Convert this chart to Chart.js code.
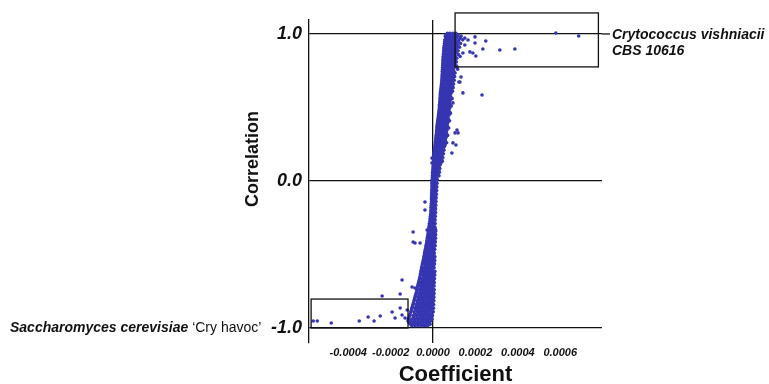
<!DOCTYPE html>
<html>
<head>
<meta charset="utf-8">
<script src="https://cdn.jsdelivr.net/npm/chart.js@4.4.1/dist/chart.umd.min.js"></script>
<style>
    html, body { margin: 0; padding: 0; background: #fff; }
</style>
</head>
<body>
<canvas id="chart" width="769" height="384"></canvas>
<script>
"use strict";

// Coefficient values below are in millionths (x 1e-6).

// Main band: [correlation, [coefficients...]]
let BAND = [
    [1.005, [68, 80, 94, 108]],
    [0.985, [58, 72, 85, 98, 115, 132]],
    [0.96, [56, 66, 78, 90, 104, 122, 140]],
    [0.935, [54, 63, 74, 86, 99, 112, 130]],
    [0.91, [52, 61, 71, 82, 95, 108, 125]],
    [0.885, [50, 60, 70, 80, 92, 104, 118]],
    [0.86, [49, 58, 68, 79, 90, 102, 120]],
    [0.835, [48, 57, 66, 76, 88, 100, 112]],
    [0.81, [47, 56, 65, 75, 86, 98, 110]],
    [0.785, [46, 55, 64, 74, 84, 96, 108]],
    [0.76, [45, 54, 63, 72, 82, 94, 116]],
    [0.735, [44, 53, 62, 71, 81, 92, 104]],
    [0.71, [43, 52, 61, 70, 80, 91, 102]],
    [0.685, [42, 50, 59, 68, 78, 88, 100]],
    [0.66, [40, 49, 58, 67, 76, 86, 97]],
    [0.635, [38, 47, 56, 65, 74, 84, 95]],
    [0.61, [36, 45, 54, 63, 72, 82, 92]],
    [0.585, [34, 43, 52, 61, 70, 80]],
    [0.56, [33, 42, 51, 60, 69, 79, 90]],
    [0.535, [32, 41, 50, 58, 67, 77]],
    [0.51, [30, 39, 48, 57, 66, 76, 86]],
    [0.485, [29, 38, 47, 55, 64, 74]],
    [0.46, [27, 36, 45, 54, 62, 72, 82]],
    [0.435, [25, 34, 43, 52, 61, 70]],
    [0.41, [22, 31, 40, 49, 58, 68, 78]],
    [0.385, [20, 29, 38, 47, 56, 66]],
    [0.36, [18, 27, 36, 45, 54, 64, 74]],
    [0.335, [17, 26, 35, 44, 53, 62]],
    [0.31, [15, 24, 33, 42, 51, 60, 69]],
    [0.285, [13, 22, 31, 40, 49, 58]],
    [0.26, [11, 20, 29, 38, 47, 56, 64]],
    [0.235, [9, 18, 27, 36, 45, 54]],
    [0.21, [6, 15, 24, 33, 42, 52]],
    [0.185, [4, 13, 22, 31, 40, 49]],
    [0.16, [3, 11, 20, 29, 38, 46]],
    [0.135, [2, 10, 18, 27, 36, 44]],
    [0.11, [1, 9, 17, 25, 34]],
    [0.085, [0, 8, 16, 24, 32]],
    [0.06, [-2, 6, 14, 22, 30]],
    [0.035, [-3, 5, 13, 21, 28]],
    [0.01, [-4, 4, 12, 20]],
    [-0.015, [-5, 3, 11, 19]],
    [-0.04, [-5, 2, 10, 18]],
    [-0.065, [-6, 1, 9, 17]],
    [-0.09, [-6, 1, 8, 16]],
    [-0.115, [-7, 0, 7, 15]],
    [-0.14, [-7, 0, 7, 14]],
    [-0.165, [-8, -1, 6, 13]],
    [-0.19, [-9, -2, 5, 12]],
    [-0.215, [-10, -3, 4, 12]],
    [-0.24, [-12, -4, 3, 11]],
    [-0.265, [-14, -6, 2, 10]],
    [-0.29, [-17, -8, 1, 10]],
    [-0.315, [-19, -10, -1, 9]],
    [-0.34, [-22, -12, -3, 8, 13]],
    [-0.365, [-24, -14, -5, 5, 12]],
    [-0.39, [-27, -17, -7, 3, 12]],
    [-0.415, [-30, -20, -10, 1, 11]],
    [-0.44, [-33, -23, -12, -2, 10]],
    [-0.465, [-36, -26, -15, -4, 8]],
    [-0.49, [-40, -29, -18, -7, 6]],
    [-0.515, [-43, -32, -21, -10, 1, 9]],
    [-0.54, [-46, -35, -24, -13, -2, 8]],
    [-0.565, [-50, -38, -27, -16, -5, 7]],
    [-0.59, [-54, -42, -30, -19, -8, 5]],
    [-0.615, [-57, -45, -33, -21, -10, 3, 9]],
    [-0.64, [-60, -48, -36, -24, -12, 0, 8]],
    [-0.665, [-64, -52, -40, -27, -15, -3, 7]],
    [-0.69, [-68, -56, -43, -30, -18, -5, 6]],
    [-0.715, [-72, -59, -46, -33, -20, -7, 5]],
    [-0.74, [-76, -63, -50, -37, -24, -11, 2, 6]],
    [-0.765, [-80, -67, -54, -41, -28, -15, -2, 5]],
    [-0.79, [-85, -71, -57, -44, -31, -18, -5, 4]],
    [-0.815, [-90, -76, -62, -48, -34, -21, -8, 4]],
    [-0.84, [-95, -80, -66, -52, -38, -24, -10, 3]],
    [-0.865, [-100, -85, -70, -55, -41, -27, -13, 2]],
    [-0.89, [-105, -90, -74, -59, -44, -30, -15, 1]],
    [-0.915, [-110, -94, -78, -62, -47, -32, -17, -3]],
    [-0.94, [-116, -100, -84, -67, -51, -35, -20, -5]],
    [-0.965, [-112, -96, -80, -64, -48, -33, -18]],
    [-0.985, [-100, -85, -70, -55, -40, -25]]
];

// Second pass of the band, between the rows above
let BAND_MID = [
    [0.995, [62, 75, 88, 101, 118]],
    [0.972, [60, 70, 82, 96, 110, 128, 150]],
    [0.948, [55, 68, 80, 93, 106, 120]],
    [0.922, [53, 66, 77, 90, 102, 117]],
    [0.897, [51, 64, 75, 87, 99, 112]],
    [0.872, [50, 62, 73, 85, 96, 109]],
    [0.847, [48, 61, 72, 83, 94, 106, 128]],
    [0.822, [47, 60, 70, 81, 92, 104]],
    [0.797, [46, 59, 69, 79, 90, 102]],
    [0.772, [45, 58, 68, 78, 88, 100]],
    [0.747, [44, 57, 66, 76, 87, 98]],
    [0.722, [43, 56, 65, 75, 85, 96]],
    [0.697, [42, 54, 64, 73, 83, 94]],
    [0.672, [41, 53, 62, 72, 81, 91]],
    [0.647, [39, 51, 60, 70, 79, 90]],
    [0.622, [37, 49, 58, 68, 77, 87]],
    [0.597, [35, 48, 57, 66, 75, 85]],
    [0.572, [34, 46, 55, 64, 74, 84]],
    [0.547, [33, 45, 54, 63, 72, 81]],
    [0.522, [31, 43, 52, 61, 71, 80]],
    [0.497, [30, 42, 51, 60, 69, 79]],
    [0.472, [28, 40, 49, 58, 67, 77]],
    [0.447, [26, 38, 47, 56, 65, 74]],
    [0.422, [23, 35, 44, 53, 63, 72]],
    [0.397, [21, 33, 42, 51, 60, 70]],
    [0.372, [19, 31, 40, 49, 58, 68]],
    [0.347, [17, 30, 39, 48, 57, 66]],
    [0.322, [16, 28, 37, 46, 55, 64]],
    [0.297, [14, 26, 35, 44, 53, 62]],
    [0.272, [12, 24, 33, 42, 51, 59]],
    [0.247, [10, 22, 31, 40, 49, 57]],
    [0.222, [7, 19, 28, 37, 46]],
    [0.197, [5, 17, 26, 35, 44]],
    [0.172, [3, 15, 24, 33, 42]],
    [0.147, [2, 14, 22, 31, 40]],
    [0.122, [1, 13, 21, 29, 37]],
    [0.097, [0, 12, 20, 28]],
    [0.072, [-1, 10, 18, 26]],
    [0.047, [-2, 9, 17, 24]],
    [0.022, [-3, 8, 16]],
    [-0.003, [-4, 7, 15]],
    [-0.028, [-5, 6, 14]],
    [-0.053, [-5, 5, 13]],
    [-0.078, [-6, 4, 12]],
    [-0.103, [-6, 3, 11]],
    [-0.128, [-7, 3, 10]],
    [-0.153, [-8, 2, 9]],
    [-0.178, [-9, 1, 8]],
    [-0.203, [-10, 0, 8]],
    [-0.228, [-11, -1, 7]],
    [-0.253, [-13, -2, 6]],
    [-0.278, [-15, -4, 5]],
    [-0.303, [-18, -6, 4]],
    [-0.328, [-20, -8, 2, 11]],
    [-0.353, [-23, -10, 0, 9]],
    [-0.378, [-26, -12, -2, 8]],
    [-0.403, [-28, -15, -4, 7]],
    [-0.428, [-31, -18, -7, 5]],
    [-0.453, [-34, -21, -10, 3]],
    [-0.478, [-38, -24, -12, 1]],
    [-0.503, [-41, -27, -15, -4, 4]],
    [-0.528, [-44, -30, -18, -7, 4]],
    [-0.553, [-48, -33, -21, -10, 3]],
    [-0.578, [-52, -36, -24, -13, 2]],
    [-0.603, [-55, -39, -27, -15, -4]],
    [-0.628, [-58, -42, -30, -18, -6, 4]],
    [-0.653, [-62, -46, -33, -21, -9, 3]],
    [-0.678, [-66, -50, -37, -24, -11, 2]],
    [-0.703, [-70, -53, -40, -27, -13, 1]],
    [-0.728, [-74, -57, -44, -30, -17, -4]],
    [-0.753, [-78, -61, -47, -34, -21, -8, 1]],
    [-0.778, [-82, -64, -50, -37, -24, -11, 0]],
    [-0.803, [-87, -69, -55, -41, -27, -14, -1]],
    [-0.828, [-92, -73, -59, -45, -31, -17, -3]],
    [-0.853, [-97, -78, -63, -48, -34, -20, -6]],
    [-0.878, [-102, -82, -67, -52, -37, -22, -8]],
    [-0.903, [-108, -86, -70, -55, -40, -25, -10]],
    [-0.928, [-113, -92, -75, -59, -43, -28, -12]],
    [-0.953, [-118, -104, -88, -72, -56, -41, -26, -11]],
    [-0.975, [-106, -92, -77, -62, -47, -32, -14]]
];

// Scattered points away from the band
let SPREAD_COEF = [
    -565, -546, -480, -348, -306, -278, -249, -193, -179, -155, -146, -132, -122, -240,
    -94, -85, -61, -146, -155, -85, -38, -38, -28, -14, -99, -94,
    132, 122, 141, 231, 113, 127, 113, 94, 89, 80, 108, 94, 104, 118, -5, -5,
    165, 198, 198, 249, 235, 315, 386, 579, 687, 188, 202, 174, 141, 150
];
let SPREAD_CORR = [
    -0.952, -0.952, -0.966, -0.952, -0.925, -0.952, -0.918, -0.891, -0.932, -0.864, -0.912, -0.932, -0.878, -0.782,
    -0.347, -0.422, -0.422, -0.673, -0.769, -0.728, -0.143, -0.197, -0.333, -0.401, -0.721, -0.415,
    0.707, 0.673, 0.599, 0.585, 0.776, 0.673, 0.347, 0.259, 0.190, 0.463, 0.245, 0.531, 0.327, 0.327, 0.156, 0.122,
    0.959, 0.980, 0.939, 0.952, 0.898, 0.891, 0.898, 1.007, 0.986, 0.871, 0.850, 0.878, 0.871, 0.925
];

let X_TICKS = [-0.0004, -0.0002, 0, 0.0002, 0.0004, 0.0006];
let Y_TICKS = [-1, 0, 1];

// Highlight boxes: [coef min, coef max] and [corr min, corr max]
let TOP_BOX_COEF = [0.000104, 0.00078];
let TOP_BOX_CORR = [0.776, 1.143];
let LOW_BOX_COEF = [-0.000575, -0.000118];
let LOW_BOX_CORR = [-1.0, -0.803];

let INK = "#111111";
let DOT = "#3636b2";
let FAMILY = "'Liberation Sans', Arial, Helvetica, sans-serif";

Chart.defaults.font.family = FAMILY;
Chart.defaults.color = INK;

let points = [];
for (let row of BAND.concat(BAND_MID)) {
    for (let c of row[1]) {
        points.push({ x: c * 1e-6, y: row[0] });
    }
}
for (let i = 0; i < SPREAD_COEF.length; ++i) {
    points.push({ x: SPREAD_COEF[i] * 1e-6, y: SPREAD_CORR[i] });
}

function strokeBox(ctx, xs, ys, coef, corr) {
    let x0 = xs.getPixelForValue(coef[0]);
    let x1 = xs.getPixelForValue(coef[1]);
    let y0 = ys.getPixelForValue(corr[1]);
    let y1 = ys.getPixelForValue(corr[0]);
    ctx.strokeRect(x0, y0, x1 - x0, y1 - y0);
}

let overlay = {
    id: "overlay",
    afterDraw(chart) {
        let ctx = chart.ctx;
        let xs = chart.scales.x;
        let ys = chart.scales.y;
        let area = chart.chartArea;
        ctx.save();
        ctx.strokeStyle = INK;
        ctx.lineWidth = 1.3;
        strokeBox(ctx, xs, ys, TOP_BOX_COEF, TOP_BOX_CORR);
        strokeBox(ctx, xs, ys, LOW_BOX_COEF, LOW_BOX_CORR);

        // short leader from the 1.0 line to the label
        let y1 = ys.getPixelForValue(1);
        ctx.beginPath();
        ctx.moveTo(area.right, y1);
        ctx.lineTo(area.right + 8, y1);
        ctx.stroke();

        ctx.fillStyle = INK;
        ctx.textBaseline = "middle";
        ctx.textAlign = "left";
        ctx.font = "italic bold 14px " + FAMILY;
        ctx.fillText("Crytococcus vishniacii", area.right + 10, y1 + 1);
        ctx.fillText("CBS 10616", area.right + 10, y1 + 17);

        let ym = ys.getPixelForValue(-1);
        let label = "Saccharomyces cerevisiae ";
        ctx.fillText(label, 10, ym);
        let w = ctx.measureText(label).width;
        ctx.font = "14px " + FAMILY;
        ctx.fillText("\u2018Cry havoc\u2019", 10 + w, ym);

        // y axis title
        ctx.translate(253, 159);
        ctx.rotate(-Math.PI / 2);
        ctx.textAlign = "center";
        ctx.font = "bold 18px " + FAMILY;
        ctx.fillText("Correlation", 0, 0);
        ctx.restore();
    }
};

new Chart(document.getElementById("chart"), {
    type: "scatter",
    data: {
        datasets: [{
            label: "Strains",
            data: points,
            backgroundColor: DOT,
            borderWidth: 0,
            pointRadius: 1.8,
            pointHoverRadius: 1.8
        }]
    },
    options: {
        responsive: false,
        animation: false,
        devicePixelRatio: 1,
        layout: {
            padding: { left: 0, right: 167, top: 20, bottom: 0 }
        },
        plugins: {
            legend: { display: false },
            tooltip: { enabled: false }
        },
        scales: {
            x: {
                type: "linear",
                min: -0.000585,
                max: 0.000797,
                afterFit: function(scale) { scale.height = 41; },
                afterBuildTicks: function(scale) {
                    scale.ticks = X_TICKS.map(function(v) { return { value: v }; });
                },
                border: { display: false },
                grid: {
                    drawTicks: false,
                    lineWidth: 1.3,
                    color: function(ctx) {
                        return ctx.tick && ctx.tick.value === 0 ? INK : "rgba(0,0,0,0)";
                    }
                },
                ticks: {
                    padding: 3,
                    maxRotation: 0,
                    font: { size: 11, style: "italic", weight: "bold" },
                    callback: function(v) { return v.toFixed(4); }
                },
                title: {
                    display: true,
                    text: "Coefficient",
                    padding: 0,
                    font: { size: 22, weight: "bold", lineHeight: 0.8 }
                }
            },
            y: {
                type: "linear",
                min: -1.102,
                max: 1.095,
                afterFit: function(scale) { scale.width = 309; },
                afterBuildTicks: function(scale) {
                    scale.ticks = Y_TICKS.map(function(v) { return { value: v }; });
                },
                border: { display: true, color: INK, width: 1.3 },
                grid: {
                    drawTicks: false,
                    color: INK,
                    lineWidth: 1.3
                },
                ticks: {
                    padding: 7,
                    font: { size: 18, style: "italic", weight: "bold" },
                    callback: function(v) { return v.toFixed(1); }
                },
                title: { display: false }
            }
        }
    },
    plugins: [overlay]
});
</script>
</body>
</html>
